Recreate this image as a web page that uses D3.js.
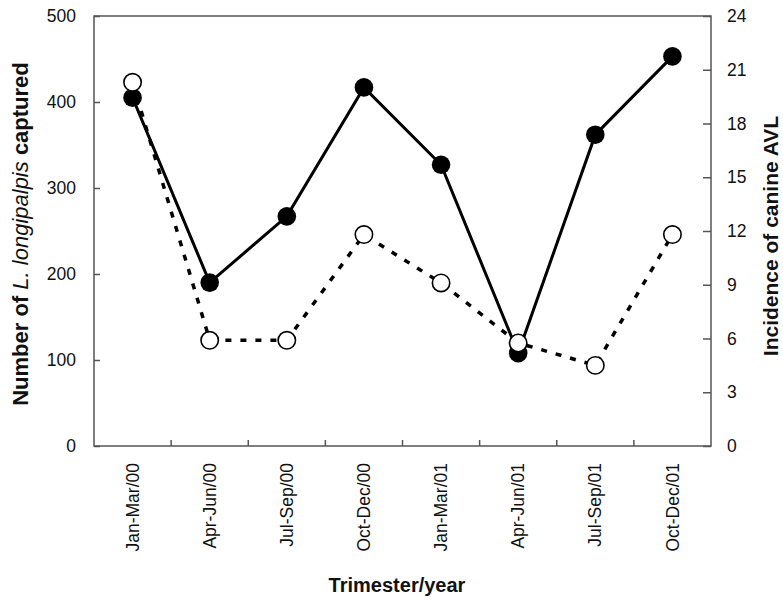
<!DOCTYPE html>
<html>
<head>
<meta charset="utf-8">
<script src="https://cdn.jsdelivr.net/npm/d3@7"></script>
<style>
  body { margin: 0; background: #fff; }
  text { font-family: "Liberation Sans", Arial, sans-serif; fill: #111; }
</style>
</head>
<body>
<div class="chart"></div>
<script>
const trimesters = ["Jan-Mar/00", "Apr-Jun/00", "Jul-Sep/00", "Oct-Dec/00",
  "Jan-Mar/01", "Apr-Jun/01", "Jul-Sep/01", "Oct-Dec/01"];
const sandflies = [405, 190, 267, 417, 327, 108, 362, 453];
const incidence = [20.3, 5.9, 5.9, 11.8, 9.1, 5.75, 4.5, 11.8];
const leftTicks = [0, 100, 200, 300, 400, 500];
const rightTicks = [0, 3, 6, 9, 12, 15, 18, 21, 24];

const width = 783, height = 597;
const margin = { top: 16, right: 72, bottom: 151, left: 94 };
const innerW = width - margin.left - margin.right;
const innerH = height - margin.top - margin.bottom;

const svg = d3.select(".chart").append("svg")
  .attr("width", width)
  .attr("height", height);

const g = svg.append("g")
  .attr("transform", "translate(" + margin.left + "," + margin.top + ")");

const x = d3.scaleBand().domain(trimesters).range([0, innerW]);
const yL = d3.scaleLinear().domain([0, 500]).range([innerH, 0]);
const yR = d3.scaleLinear().domain([0, 24]).range([innerH, 0]);
const cx = (d) => x(d) + x.bandwidth() / 2;

const axisColor = "#555";

// frame
g.append("rect")
  .attr("width", innerW)
  .attr("height", innerH)
  .attr("fill", "none")
  .attr("stroke", axisColor)
  .attr("stroke-width", 1.5);

// left axis
const left = g.append("g")
  .call(d3.axisLeft(yL).tickValues(leftTicks).tickSize(-6).tickPadding(18));
// right axis
const right = g.append("g")
  .attr("transform", "translate(" + innerW + ",0)")
  .call(d3.axisRight(yR).tickValues(rightTicks).tickSize(-8).tickPadding(16));
[left, right].forEach((a) => {
  a.select(".domain").remove();
  a.selectAll(".tick line").attr("stroke", axisColor).attr("stroke-width", 1.5);
  a.selectAll(".tick text").style("font-size", "17.5px").attr("fill", "#111");
});

// bottom axis: labels at band centres, ticks at band boundaries
const bottom = g.append("g")
  .attr("transform", "translate(0," + innerH + ")")
  .call(d3.axisBottom(x).tickSize(0));
bottom.select(".domain").remove();
bottom.selectAll(".tick text")
  .style("font-size", "17.5px")
  .attr("fill", "#111")
  .attr("text-anchor", "end")
  .attr("dy", "0.35em")
  .attr("transform", "translate(0,17) rotate(-90)")
  .attr("x", 0)
  .attr("y", 0);

g.append("g").selectAll("line")
  .data(trimesters.slice(1))
  .join("line")
  .attr("x1", (d) => x(d))
  .attr("x2", (d) => x(d))
  .attr("y1", innerH)
  .attr("y2", innerH - 6)
  .attr("stroke", axisColor)
  .attr("stroke-width", 1.5);

// lines
const lineL = d3.line().x((d, i) => cx(trimesters[i])).y((d) => yL(d));
const lineR = d3.line().x((d, i) => cx(trimesters[i])).y((d) => yR(d));

g.append("path")
  .datum(incidence)
  .attr("d", lineR)
  .attr("fill", "none")
  .attr("stroke", "#000")
  .attr("stroke-width", 3.5)
  .attr("stroke-dasharray", "6,9");

g.append("path")
  .datum(sandflies)
  .attr("d", lineL)
  .attr("fill", "none")
  .attr("stroke", "#000")
  .attr("stroke-width", 3);

g.append("g").selectAll("circle")
  .data(sandflies)
  .join("circle")
  .attr("cx", (d, i) => cx(trimesters[i]))
  .attr("cy", (d) => yL(d))
  .attr("r", 9.3)
  .attr("fill", "#000");

g.append("g").selectAll("circle")
  .data(incidence)
  .join("circle")
  .attr("cx", (d, i) => cx(trimesters[i]))
  .attr("cy", (d) => yR(d))
  .attr("r", 8.7)
  .attr("fill", "#fff")
  .attr("stroke", "#000")
  .attr("stroke-width", 1.6);

// axis titles
const leftTitle = svg.append("text")
  .attr("transform", "translate(28,234) rotate(-90)")
  .attr("text-anchor", "middle")
  .style("font-size", "22px")
  .style("font-weight", "bold");
leftTitle.append("tspan").text("Number of ");
leftTitle.append("tspan").style("font-style", "italic").style("font-weight", "normal").text("L. longipalpis");
leftTitle.append("tspan").text(" captured");

svg.append("text")
  .attr("transform", "translate(778,236) rotate(-90)")
  .attr("text-anchor", "middle")
  .style("font-size", "21px")
  .style("font-weight", "bold")
  .text("Incidence of canine AVL");

svg.append("text")
  .attr("x", 397)
  .attr("y", 592)
  .attr("text-anchor", "middle")
  .style("font-size", "20px")
  .style("font-weight", "bold")
  .text("Trimester/year");
</script>
</body>
</html>
